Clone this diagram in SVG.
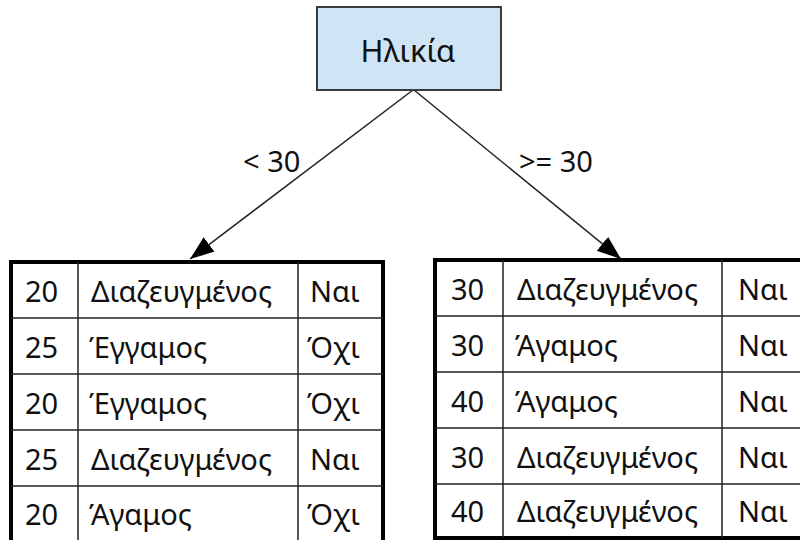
<svg xmlns="http://www.w3.org/2000/svg" width="800" height="540" viewBox="0 0 800 540">
<style>
text{font-family:"Noto Sans","Open Sans","DejaVu Sans",sans-serif;fill:#111;}
.t{font-size:29px;}
.lbl{font-size:29px;}
.root{fill:#cfe4f4;stroke:#3a3a3a;stroke-width:2;}
.outer{fill:#fff;stroke:#000;stroke-width:4;}
.grid{stroke:#222;stroke-width:1.5;fill:none;}
.conn{stroke:#222;stroke-width:1.5;fill:none;}
</style>
<defs>
<marker id="ah" markerUnits="userSpaceOnUse" markerWidth="26" markerHeight="20" refX="24" refY="9" orient="auto">
<path d="M0,0 L24,9 L0,18 Z" fill="#000"/>
</marker>
</defs>
<rect width="800" height="540" fill="#fff"/>
<g id="connectors">
<line class="conn" x1="413" y1="90" x2="190" y2="259" marker-end="url(#ah)"/>
<line class="conn" x1="414" y1="90" x2="621" y2="259" marker-end="url(#ah)"/>
<text class="lbl" x="243" y="172">&lt; 30</text>
<text class="lbl" x="519" y="172">&gt;= 30</text>
</g>
<g id="root">
<rect class="root" x="317" y="7" width="184" height="83"/>
<text x="408" y="62" text-anchor="middle" style="font-size:31px">Ηλικία</text>
</g>
<g id="table-left">
<rect class="outer" x="11" y="262" width="372" height="285"/>
<path class="grid" d="M11,318H383M11,374H383M11,430H383M11,486H383M78,262V545M298,262V545"/>
<text class="t" x="25" y="302">20</text><text class="t" x="91" y="302">Διαζευγμένος</text><text class="t" x="310" y="302">Ναι</text>
<text class="t" x="25" y="358">25</text><text class="t" x="89" y="358">Έγγαμος</text><text class="t" x="307" y="358">Όχι</text>
<text class="t" x="25" y="414">20</text><text class="t" x="89" y="414">Έγγαμος</text><text class="t" x="307" y="414">Όχι</text>
<text class="t" x="25" y="470">25</text><text class="t" x="91" y="470">Διαζευγμένος</text><text class="t" x="310" y="470">Ναι</text>
<text class="t" x="25" y="525">20</text><text class="t" x="89" y="525">Άγαμος</text><text class="t" x="307" y="525">Όχι</text>
</g>
<g id="table-right">
<rect class="outer" x="435" y="260" width="380" height="278"/>
<path class="grid" d="M435,316H815M435,372H815M435,428H815M435,484H815M503,260V538M722,260V538"/>
<text class="t" x="451" y="300">30</text><text class="t" x="517" y="300">Διαζευγμένος</text><text class="t" x="738" y="300">Ναι</text>
<text class="t" x="451" y="356">30</text><text class="t" x="515" y="356">Άγαμος</text><text class="t" x="738" y="356">Ναι</text>
<text class="t" x="451" y="412">40</text><text class="t" x="515" y="412">Άγαμος</text><text class="t" x="738" y="412">Ναι</text>
<text class="t" x="451" y="468">30</text><text class="t" x="517" y="468">Διαζευγμένος</text><text class="t" x="738" y="468">Ναι</text>
<text class="t" x="451" y="522">40</text><text class="t" x="517" y="522">Διαζευγμένος</text><text class="t" x="738" y="522">Ναι</text>
</g>
</svg>
